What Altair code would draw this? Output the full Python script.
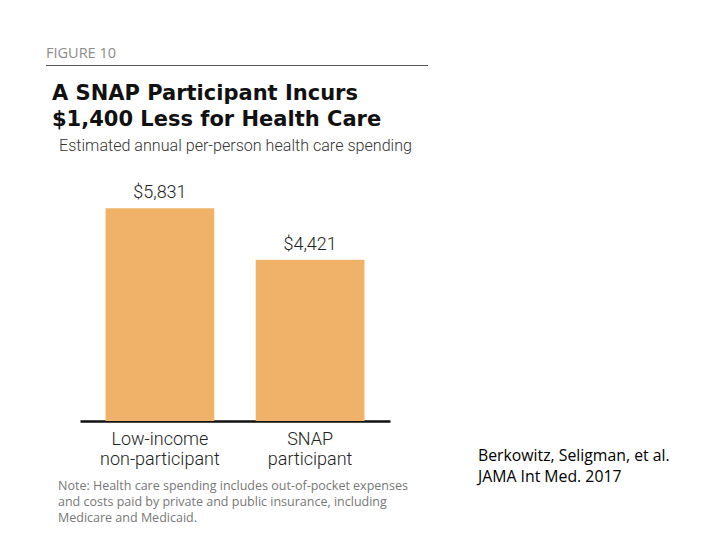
import altair as alt
import pandas as pd

categories = ["Low-income\nnon-participant", "SNAP\nparticipant"]
values = [5831, 4421]
value_labels = ["$5,831", "$4,421"]

figure_label = "FIGURE 10"
title_text = "A SNAP Participant Incurs\n$1,400 Less for Health Care"
subtitle = "Estimated annual per-person health care spending"
note_text = ("Note: Health care spending includes out-of-pocket expenses\n"
             "and costs paid by private and public insurance, including\n"
             "Medicare and Medicaid.")
source_text = "Berkowitz, Seligman, et al.\nJAMA Int Med. 2017"

df = pd.DataFrame({"cat": categories, "value": values, "label": value_labels})

W, H = 310, 219
COND = "Roboto"
BAR = "#F0B268"

xenc = alt.X("cat:N", sort=categories,
             scale=alt.Scale(paddingInner=0.276, paddingOuter=0.17),
             axis=alt.Axis(title=None, labels=False, ticks=False, domain=True,
                           domainColor="#111111", domainWidth=2.5, grid=False))
yenc = alt.Y("value:Q", scale=alt.Scale(domain=[0, 6000]), axis=None)

base = alt.Chart(df)

bars = base.mark_bar(color=BAR).encode(x=xenc, y=yenc)

vals = base.mark_text(font=COND, fontSize=18, fontWeight=300, baseline="bottom", dy=-6,
                      color="#222222").encode(x=xenc, y=yenc, text="label:N")

cats = base.mark_text(font=COND, fontSize=18, fontWeight=300, baseline="alphabetic",
                      lineBreak="\n", lineHeight=20, color="#222222").encode(
    x=xenc, y=alt.value(H + 24), text="cat:N")

def txt(text, x, y, **kw):
    return alt.Chart(pd.DataFrame({"t": [text]})).mark_text(
        align="left", baseline="alphabetic", lineBreak="\n", **kw).encode(
        x=alt.value(x), y=alt.value(y), text="t:N")

fig = txt(figure_label, -34, -144, font="Open Sans", fontSize=14.5,
          color="#8c8c8c")
rule = alt.Chart(pd.DataFrame({"a": [0]})).mark_rule(
    color="#555555", strokeWidth=1.2).encode(
    x=alt.value(-34), x2=alt.value(348), y=alt.value(-136.5))
title = txt(title_text, -28, -102.5, font="DejaVu Sans", fontSize=21,
            fontWeight="bold", color="#111111", lineHeight=26)
sub = txt(subtitle, -21, -51, font=COND, fontSize=16.1, fontWeight=300, color="#333333")

notes = txt(note_text, -22, 288, font="Open Sans", fontSize=12.5,
            color="#777777", lineHeight=16)
srcs = txt(source_text, 398, 259, font="Open Sans", fontSize=15.8,
           color="#000000", lineHeight=21)

chart = alt.layer(bars, vals, cats, fig, rule, title, sub, notes, srcs).properties(
    width=W, height=H,
    background="white",
    autosize=alt.AutoSizeParams(type="none"),
    padding={"left": 72, "top": 194, "right": 322, "bottom": 111},
).configure_view(stroke=None)

chart.save("out.html", embed_options={"renderer": "svg", "actions": False})
